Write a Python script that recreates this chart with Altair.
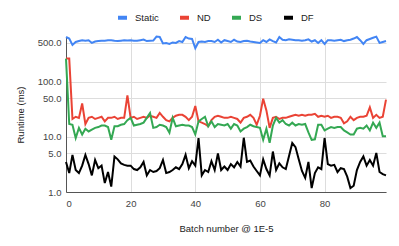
import altair as alt
import pandas as pd

batch = list(range(100))

static = [640, 600, 460, 520, 540, 560, 550, 560, 500, 530,
          540, 550, 550, 560, 560, 545, 540, 550, 560, 555,
          560, 550, 545, 560, 575, 540, 545, 550, 650, 640,
          490, 500, 480, 510, 500, 540, 520, 640, 600, 590,
          400, 520, 530, 520, 540, 540, 520, 570, 510, 560,
          540, 520, 570, 530, 520, 540, 545, 530, 520, 510,
          500, 560, 520, 580, 540, 510, 640, 570, 560, 580,
          570, 560, 560, 550, 560, 580, 530, 560, 500, 560,
          480, 560, 560, 550, 560, 570, 540, 560, 570, 600,
          640, 560, 480, 560, 590, 620, 650, 500, 520, 540]

nd = [260, 260, 21, 23, 22, 40, 17, 22, 23, 21,
      22, 23, 19, 22, 22, 23, 21, 22, 22, 56,
      22, 23, 21, 22, 23, 22, 24, 23, 22, 27,
      23, 20, 19, 22, 24, 25, 25, 23, 20, 23,
      36, 19, 18, 17, 15.5, 20, 23, 24, 23, 22,
      22, 23, 22, 21, 18, 22, 23, 25, 22, 16.5,
      24, 49, 30, 14.5, 22, 23, 21, 22, 22, 23,
      24, 25, 24, 25, 24, 25, 25, 26, 23, 24,
      23, 24, 22, 23, 23, 22, 17.5, 19, 23, 20,
      22, 23, 23, 24, 34, 22, 25, 22, 23, 47]

ds = [260, 17, 16.5, 9.5, 14.5, 11, 14, 12.5, 13.5, 14.5,
      15, 16, 16, 15, 8.8, 15.5, 15.5, 16.5, 17, 20,
      22, 16, 16.5, 17, 18, 22, 27, 14.5, 15, 16.5,
      16, 15, 11.8, 22, 15.5, 16, 16.5, 16, 16, 15,
      11, 19, 21, 23, 15.5, 19, 15, 17, 16.5, 16,
      17, 14, 17, 16, 12.5, 14, 15, 16.5, 15.5, 15,
      14.5, 8.8, 14, 7.8, 16, 22, 18, 20, 17, 16,
      18, 16, 17, 16.5, 17, 12, 8.8, 9, 16.5, 16.5,
      13, 14, 15, 14.5, 15, 15, 13, 12, 11, 11,
      14, 14.5, 14, 16, 13, 18, 14.5, 18, 10.2, 10.2]

df_vals = [3.5, 2.2, 4.7, 2.5, 2.2, 3.0, 4.7, 3.2, 2.0, 3.8,
           2.7, 3.0, 1.45, 2.3, 1.25, 4.4, 3.9, 3.3, 3.1, 3.0,
           3.0, 2.6, 2.5, 2.8, 3.5, 2.0, 2.5, 2.3, 2.4, 2.7,
           3.8, 2.2, 2.3, 2.5, 2.8, 2.6, 3.2, 4.7, 2.7, 3.6,
           3.0, 9.5, 2.0, 2.5, 2.3, 3.6, 2.5, 5.0, 2.5, 2.9,
           2.5, 3.2, 2.8, 3.5, 2.9, 9.6, 3.5, 3.7, 2.9, 2.4,
           2.0, 3.9, 2.6, 2.0, 5.4, 2.5, 3.3, 2.8, 2.6, 4.5,
           7.7, 6.5, 3.9, 2.4, 1.8, 3.5, 1.18, 2.2, 2.8, 2.6,
           9.5, 3.2, 3.0, 3.1, 2.3, 2.7, 2.6, 1.9, 1.18, 1.3,
           2.5, 3.5, 4.4, 3.0, 3.8, 3.0, 5.1, 2.3, 2.1, 2.0]

series_names = ["Static", "ND", "DS", "DF"]
series_colors = ["#4285F4", "#EA4335", "#34A853", "#000000"]
y_ticks = [1, 5, 10, 50, 100, 500]
x_ticks = [0, 20, 40, 60, 80]

rows = []
for name, vals in zip(series_names, [static, nd, ds, df_vals]):
    for b, v in zip(batch, vals):
        rows.append({"batch": b, "runtime": v, "series": name})
data = pd.DataFrame(rows)

font = "Liberation Sans"

chart = alt.Chart(data).mark_line(strokeWidth=2).encode(
    x=alt.X("batch:Q",
            scale=alt.Scale(domain=[0, 99], nice=False, zero=False),
            axis=alt.Axis(values=x_ticks, title="Batch number @ 1E-5",
                          labelPadding=6, titlePadding=16, format="d")),
    y=alt.Y("runtime:Q",
            scale=alt.Scale(type="log", domain=[1, 640], nice=False),
            axis=alt.Axis(values=y_ticks, title="Runtime (ms)", format=".1f",
                          labelPadding=5, titlePadding=12)),
    color=alt.Color("series:N",
                    scale=alt.Scale(domain=series_names, range=series_colors),
                    legend=alt.Legend(title=None, orient="none", direction="horizontal",
                                      legendX=50, legendY=-26,
                                      symbolType="stroke", symbolSize=81,
                                      symbolStrokeWidth=4, labelOffset=6,
                                      columnPadding=13)),
    order=alt.Order("batch:Q"),
).properties(
    width=320, height=155,
    autosize=alt.AutoSizeParams(type="none"),
    padding={"left": 58, "top": 29, "right": 5, "bottom": 46},
).configure_view(
    stroke=None
).configure_axis(
    labelFont=font, titleFont=font, labelFontSize=9.5, titleFontSize=9.5,
    labelColor="#444444", titleColor="#222222", titleFontWeight="normal",
    ticks=False, grid=True, gridColor="#dddddd", gridWidth=1,
    domainColor="#555555", domainWidth=1,
).configure_legend(
    labelFont=font, labelFontSize=9.5, labelColor="#222222"
)

chart.save("out.html", embed_options={"renderer": "svg", "actions": False})
